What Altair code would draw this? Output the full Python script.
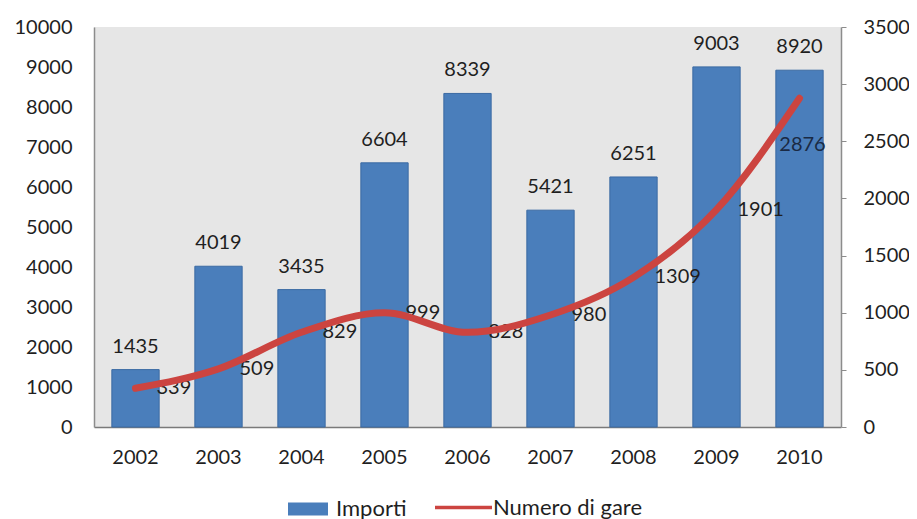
import altair as alt
import pandas as pd

years = ["2002", "2003", "2004", "2005", "2006", "2007", "2008", "2009", "2010"]
importi = [1435, 4019, 3435, 6604, 8339, 5421, 6251, 9003, 8920]
gare = [339, 509, 829, 999, 828, 980, 1309, 1901, 2876]
left_ticks = list(range(0, 10001, 1000))
right_ticks = list(range(0, 3501, 500))

df = pd.DataFrame({
    "anno": years,
    "Importi": importi,
    "Gare": gare,
    "s1": ["Importi"] * len(years),
    "s2": ["Numero di gare"] * len(years),
})

FONT = "Lato"
FS = 20
LFS = 22
TXT = "#1f1f1f"
BLUE = "#4a7ebb"
RED = "#cc4440"

x = alt.X(
    "anno:N", sort=years,
    scale=alt.Scale(paddingInner=0.43, paddingOuter=0.215),
    axis=alt.Axis(title=None, labelAngle=0, ticks=False, labelPadding=20,
                  domainColor="#7a7a7a", domainWidth=1.5, grid=False),
)
yl_scale = alt.Scale(domain=[0, 10000])
yr_scale = alt.Scale(domain=[0, 3500])
yl_axis = alt.Axis(title=None, values=left_ticks, format="d", labelOverlap=False,
                   ticks=False, labelPadding=22,
                   domainColor="#8c8c8c", domainWidth=1.5, grid=False, orient="left")
yr_axis = alt.Axis(title=None, values=right_ticks, format="d", labelOverlap=False,
                   orient="right", tickSize=5, tickColor="#8c8c8c",
                   labelPadding=17, domainColor="#8c8c8c", domainWidth=1.5, grid=False)

bars = alt.Chart(df).mark_bar(stroke="#3b6aa3", strokeWidth=1).encode(
    x=x,
    y=alt.Y("Importi:Q", scale=yl_scale, axis=yl_axis),
    color=alt.Color("s1:N", scale=alt.Scale(domain=["Importi"], range=[BLUE]),
                    legend=alt.Legend(title=None, orient="none", legendX=194, legendY=462,
                                      symbolType="M-1,-0.33H1V0.33H-1Z", symbolSize=1600,
                                      symbolStrokeWidth=0, labelOffset=8, padding=0)),
)
bar_text = alt.Chart(df).mark_text(dy=-17, baseline="alphabetic", font=FONT, fontSize=FS, color=TXT).encode(
    x=x,
    y=alt.Y("Importi:Q", scale=yl_scale, axis=yl_axis),
    text=alt.Text("Importi:Q", format="d"),
)
left = alt.layer(bars, bar_text)

line = alt.Chart(df).mark_line(strokeWidth=7, interpolate="monotone", strokeCap="round").encode(
    x=x,
    y=alt.Y("Gare:Q", scale=yr_scale, axis=yr_axis),
    stroke=alt.Stroke("s2:N", scale=alt.Scale(domain=["Numero di gare"], range=[RED]),
                      legend=alt.Legend(title=None, orient="none", legendX=341, legendY=452,
                                        symbolType="M-1,-0.06H1V0.06H-1Z", symbolSize=3249,
                                        symbolFillColor=RED, symbolStrokeWidth=0,
                                        labelOffset=1, padding=0)),
)
line_text = alt.Chart(df).transform_filter(alt.datum.anno != years[-1]).mark_text(
    dx=21, align="left", baseline="middle", font=FONT, fontSize=FS, color=TXT
).encode(
    x=x,
    y=alt.Y("Gare:Q", scale=yr_scale, axis=yr_axis),
    text=alt.Text("Gare:Q", format="d"),
)
last_text = alt.Chart(df).transform_filter(alt.datum.anno == years[-1]).mark_text(
    dx=3, dy=47, align="center", baseline="middle", font=FONT, fontSize=FS, color="#1a2a44"
).encode(
    x=x,
    y=alt.Y("Gare:Q", scale=yr_scale, axis=yr_axis),
    text=alt.Text("Gare:Q", format="d"),
)
right = alt.layer(line_text, last_text, line)

chart = alt.layer(left, right).resolve_scale(y="independent").properties(
    width=747, height=400,
    autosize=alt.AutoSizeParams(type="none"),
    padding={"left": 86, "top": 19, "right": 68, "bottom": 92},
).configure_view(fill="#e6e6e6", stroke=None).configure_axis(
    labelFont=FONT, labelFontSize=FS, labelColor=TXT
).configure_legend(
    labelFont=FONT, labelFontSize=LFS, labelColor=TXT
)

chart.save("out.html", embed_options={"renderer": "svg", "actions": False})
